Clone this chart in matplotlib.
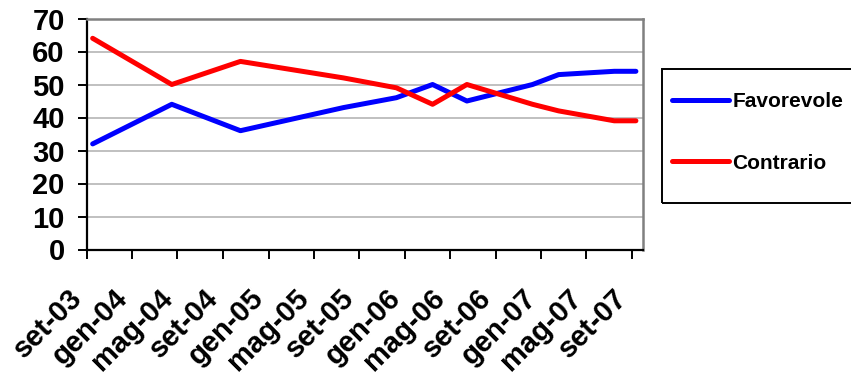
import matplotlib
matplotlib.use("Agg")
import matplotlib.pyplot as plt
import matplotlib.transforms as mtransforms
from matplotlib.patches import Rectangle
import pandas as pd

# survey dates and the two series
dates = ["2003-09-17", "2004-04-16", "2004-10-17", "2005-07-20", "2005-12-09",
         "2006-03-16", "2006-06-16", "2006-12-09", "2007-02-17", "2007-07-16",
         "2007-09-12"]
favorevole = [32, 44, 36, 43, 46, 50, 45, 50, 53, 54, 54]
contrario = [64, 50, 57, 52, 49, 44, 50, 44, 42, 39, 39]

tick_dates = ["2003-09-01", "2004-01-01", "2004-05-01", "2004-09-01", "2005-01-01",
              "2005-05-01", "2005-09-01", "2006-01-01", "2006-05-01", "2006-09-01",
              "2007-01-01", "2007-05-01", "2007-09-01"]
tick_labels = ["set-03", "gen-04", "mag-04", "set-04", "gen-05", "mag-05", "set-05",
               "gen-06", "mag-06", "set-06", "gen-07", "mag-07", "set-07"]

plt.rcParams['font.family'] = ['Liberation Sans', 'DejaVu Sans']
plt.rcParams['font.weight'] = 'bold'

x = pd.to_datetime(dates)

fig = plt.figure(figsize=(8.51, 3.80), dpi=100)
ax = fig.add_axes([86.7 / 851, 1 - 249.5 / 380, (643 - 86.7) / 851, 231 / 380])

ax.plot(x, favorevole, color='#0000FF', lw=3.6, solid_capstyle='round',
        solid_joinstyle='round', label='Favorevole', zorder=3)
ax.plot(x, contrario, color='#FF0000', lw=3.6, solid_capstyle='round',
        solid_joinstyle='round', label='Contrario', zorder=3)

ax.set_ylim(0, 70)
ax.set_yticks(range(0, 71, 10))
ax.set_xlim(pd.Timestamp("2003-09-01"), pd.Timestamp("2007-10-01"))
ax.set_xticks(pd.to_datetime(tick_dates))
ax.set_xticklabels(tick_labels)

ax.grid(axis='y', color='#C0C0C0', lw=1.4, zorder=0)
ax.set_axisbelow(True)

for side in ['left', 'bottom']:
    ax.spines[side].set_color('black')
    ax.spines[side].set_linewidth(1.6)
for side in ['top', 'right']:
    ax.spines[side].set_color('#808080')
    ax.spines[side].set_linewidth(1.8)

ax.tick_params(axis='y', direction='out', length=6.8, width=1.4, pad=9,
               labelsize=21)
ax.tick_params(axis='x', direction='out', length=6.8, width=1.4, pad=18,
               labelsize=21)
for lab in ax.get_yticklabels() + ax.get_xticklabels():
    lab.set_fontweight('bold')
shift = mtransforms.ScaledTranslation(-19 / 100, 0, fig.dpi_scale_trans)
for lab in ax.get_xticklabels():
    lab.set_rotation(45)
    lab.set_ha('right')
    lab.set_va('top')
    lab.set_rotation_mode('anchor')
    lab.set_transform(lab.get_transform() + shift)

# legend box (runs off the right edge like the original)
fig.patches.append(Rectangle((662.3 / 851, 1 - 202.7 / 380), 0.4, (202.7 - 69.3) / 380,
                             transform=fig.transFigure, fill=False,
                             edgecolor='black', lw=1.4))
fig.legend(loc='center left', bbox_to_anchor=(671.7 / 851, 1 - 132.2 / 380),
           frameon=False, borderpad=0, borderaxespad=0,
           handlelength=2.74, handletextpad=0.18, labelspacing=2.05,
           prop={'weight': 'bold', 'size': 15})

fig.savefig("out.png", dpi=100)
